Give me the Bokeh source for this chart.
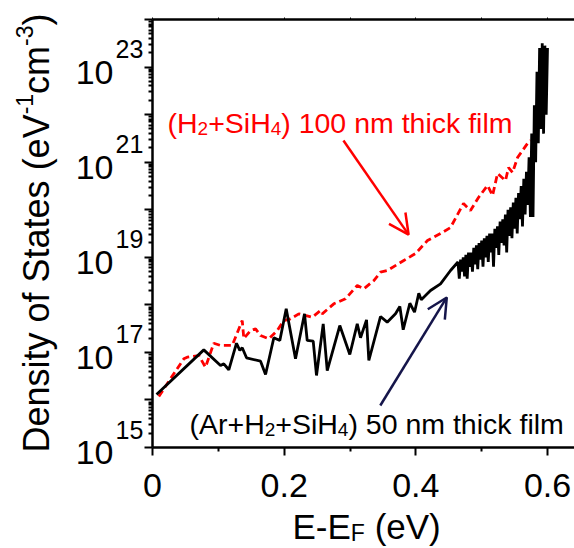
import math
from bokeh.plotting import figure
from bokeh.models import (Range1d, FixedTicker, LinearAxis, NumeralTickFormatter,
                          Label, Arrow, OpenHead)
from bokeh.embed import file_html
from bokeh.resources import INLINE

# ---------------- data ----------------
x_ticks = [0, 0.2, 0.4, 0.6]
x_minor_ticks = [0.1, 0.3, 0.5]
y_decades = [15, 16, 17, 18, 19, 20, 21, 22, 23, 24]
y_labelled_decades = [15, 17, 19, 21, 23]

# (H2+SiH4) 100 nm thick film  (red, dashed)
red_x = [0.0096, 0.0273, 0.0476, 0.0527, 0.0703, 0.0805, 0.0931, 0.1033, 0.1210,
         0.1363, 0.1387, 0.1489, 0.1565, 0.1641, 0.1767, 0.1894, 0.1995, 0.2096,
         0.2222, 0.2426, 0.2552, 0.2578, 0.2754, 0.2932, 0.3110, 0.3210, 0.3362,
         0.3463, 0.3565, 0.3817, 0.3995, 0.4177, 0.4375, 0.4527, 0.4724, 0.4830,
         0.4952, 0.5089, 0.5165, 0.5241, 0.5362, 0.5408, 0.5469, 0.5545, 0.5621,
         0.5696, 0.5742]
red_dos = [1.18e16, 2.79e16, 7.33e16, 7.93e16, 8.59e16, 4.88e16, 1.56e17, 1.40e17, 1.40e17,
           4.68e17, 1.96e17, 2.88e17, 3.13e17, 2.26e17, 1.93e17, 2.88e17, 4.68e17, 5.08e17,
           6.47e17, 5.50e17, 7.59e17, 6.47e17, 1.05e18, 1.34e18, 2.55e18, 2.17e18, 3.24e18,
           4.85e18, 5.27e18, 8.55e18, 1.20e19, 2.25e19, 3.16e19, 4.23e19, 1.35e20, 9.62e19,
           1.81e20, 3.23e20, 1.99e20, 5.77e20, 4.11e20, 7.71e20, 6.05e20, 1.25e21, 1.76e21,
           2.47e21, 2.85e21]

# (Ar+H2+SiH4) 50 nm thick film  (black, solid)
black_x = [0.0061, 0.0779, 0.1033, 0.1083, 0.1159, 0.1276, 0.1326, 0.1363, 0.1428,
           0.1641, 0.1717, 0.1843, 0.1934, 0.2031, 0.2172, 0.2309, 0.2350, 0.2441,
           0.2491, 0.2593, 0.2654, 0.2845, 0.2997, 0.3110, 0.3160, 0.3251, 0.3286,
           0.3463, 0.3565, 0.3691, 0.3757, 0.3808, 0.3909, 0.3980, 0.4045, 0.4082,
           0.4223, 0.4375, 0.4527,
           0.464, 0.466, 0.468, 0.470, 0.472, 0.474, 0.476, 0.478, 0.480, 0.482,
           0.484, 0.486, 0.488, 0.490, 0.492, 0.494, 0.496, 0.498, 0.500, 0.502,
           0.504, 0.506, 0.508, 0.510, 0.512, 0.514, 0.516, 0.518, 0.520, 0.522,
           0.524, 0.526, 0.528, 0.530, 0.532, 0.534, 0.536, 0.538, 0.540, 0.542,
           0.544, 0.546, 0.548, 0.550, 0.552, 0.554, 0.556, 0.558, 0.560, 0.562,
           0.564, 0.566, 0.568, 0.570, 0.572, 0.574, 0.576, 0.578, 0.580, 0.582,
           0.584, 0.586, 0.588, 0.590, 0.592, 0.594, 0.596, 0.598, 0.600]
black_dos = [1.30e16, 1.13e17, 5.30e16, 5.75e16, 4.31e16, 1.56e17, 1.10e17, 1.25e17, 7.69e16,
             6.53e16, 3.43e16, 2.03e17, 1.78e17, 8.24e17, 7.33e16, 6.47e17, 1.78e17, 1.72e17,
             3.27e16, 3.99e17, 4.16e16, 3.67e17, 9.02e16, 3.99e17, 2.03e17, 4.84e17, 6.75e16,
             5.68e17, 4.32e17, 6.47e17, 9.23e17, 2.99e17, 1.08e18, 7.00e17, 1.75e18, 1.28e18,
             2.00e18, 2.77e18, 5.27e18,
             7.94e18, 3.55e18, 8.91e18, 5.01e18, 1.00e19, 3.98e18, 1.12e19, 3.55e18, 1.26e19, 6.31e18,
             1.26e19, 5.01e18, 1.58e19, 7.08e18, 1.78e19, 5.62e18, 2.00e19, 8.91e18, 2.24e19, 6.31e18,
             2.51e19, 1.00e19, 2.82e19, 7.94e18, 3.16e19, 1.26e19, 3.16e19, 6.31e18, 3.98e19, 1.58e19,
             4.47e19, 1.12e19, 5.62e19, 2.00e19, 6.31e19, 1.78e19, 7.94e19, 1.26e19, 1.00e20, 2.82e19,
             1.12e20, 2.51e19, 1.41e20, 3.98e19, 1.78e20, 3.16e19, 2.24e20, 6.31e19, 3.16e20, 4.47e19,
             4.47e20, 7.94e19, 6.31e20, 1.26e20, 1.26e21, 7.08e19, 3.98e21, 7.08e19, 1.58e22, 1.00e21,
             7.94e22, 2.51e21, 2.51e23, 5.01e21, 3.16e23, 3.98e21, 2.82e23, 1.00e22, 2.51e23]

red_note_parts = [("(H", "n"), ("2", "sub"), ("+SiH", "n"), ("4", "sub"), (") 100 nm thick film", "n")]
black_note_parts = [("(Ar+H", "n"), ("2", "sub"), ("+SiH", "n"), ("4", "sub"), (") 50 nm thick film", "n")]
x_title_parts = [("E-E", "n"), ("F", "sub"), (" (eV)", "n")]
y_title_parts = [("Density of States (eV", "n"), ("-1", "sup"), ("cm", "n"), ("-3", "sup"), (")", "n")]

# ---------------- styling helpers ----------------
FONT = "Liberation Sans"
BASE_FIX = 10  # measured shift between requested and rendered text baseline
WID = {' ': 278, '(': 333, ')': 333, '+': 584, '-': 333, '.': 278, 'A': 667, 'D': 722,
       'E': 667, 'F': 611, 'H': 722, 'S': 667, 'V': 667, 'a': 556, 'c': 500, 'e': 556,
       'f': 278, 'h': 556, 'i': 222, 'k': 500, 'l': 222, 'm': 833, 'n': 556, 'o': 556,
       'r': 333, 's': 500, 't': 278, 'y': 500}


def text_width(s, size):
    return sum(WID.get(c, 556) for c in s) * size / 1000.0


def place_rich(p, parts, x_off, y_off, size, small, sub_dy, sup_dy, color, rotated=False):
    pos = 0.0
    for txt, kind in parts:
        fs = size if kind == "n" else small
        dy = 0 if kind == "n" else (sub_dy if kind == "sub" else sup_dy)
        lead = len(txt) - len(txt.lstrip(" "))
        pos += text_width(" " * lead, fs)
        body = txt.lstrip(" ")
        if rotated:
            lab = Label(x=0, y=1e15, x_offset=x_off - dy - BASE_FIX, y_offset=y_off + pos,
                        text=body, angle=math.pi / 2, text_font=FONT, text_font_size=f"{fs}px",
                        text_color=color, text_align="left", text_baseline="alphabetic")
        else:
            lab = Label(x=0, y=1e15, x_offset=x_off + pos, y_offset=y_off + dy + BASE_FIX,
                        text=body, text_font=FONT, text_font_size=f"{fs}px",
                        text_color=color, text_align="left", text_baseline="alphabetic")
        p.add_layout(lab)
        pos += text_width(body, fs)


# ---------------- figure ----------------
# The frame spans the whole canvas; axes are pinned at the data box edges so that
# all texts (tick labels, titles) lie inside the frame.
X_LO, X_HI = 0.0, 0.641
Y_LO, Y_HI = 1e15, 1e24
p = figure(width=574, height=548, x_range=Range1d(-0.2309, 0.641),
           y_range=Range1d(7.52e12, 2.51e24),
           y_axis_type="log", output_backend="svg", toolbar_location=None,
           min_border=0)
p.outline_line_color = None
p.grid.visible = False
p.background_fill_color = "white"
p.border_fill_color = "white"

xa = p.xaxis[0]
xa.fixed_location = Y_LO
xa.bounds = (X_LO, X_HI)
xa.ticker = FixedTicker(ticks=x_ticks, minor_ticks=x_minor_ticks)
xa.formatter = NumeralTickFormatter(format="0.[0]")
xa.major_label_text_font = FONT
xa.major_label_text_font_size = "34px"
xa.major_label_text_color = "black"
xa.major_label_standoff = 18
xa.major_tick_out = 8
xa.major_tick_in = 0
xa.minor_tick_out = 4
xa.minor_tick_in = 0
xa.axis_line_width = 2.5
xa.major_tick_line_width = 2
xa.minor_tick_line_width = 2

ta = LinearAxis(ticker=FixedTicker(ticks=x_ticks, minor_ticks=x_minor_ticks),
                fixed_location=Y_HI, bounds=(X_LO, X_HI),
                major_label_text_color=None, major_label_text_font_size="6px",
                major_label_standoff=0,
                major_tick_out=2, major_tick_in=0, minor_tick_out=2, minor_tick_in=0,
                axis_line_width=2.5)
p.add_layout(ta, "above")

ya = p.yaxis[0]
ya.fixed_location = X_LO
ya.bounds = (Y_LO, Y_HI)
ya.ticker = FixedTicker(ticks=[10.0 ** k for k in y_decades],
                        minor_ticks=[m * 10.0 ** k for k in y_decades[:-1] for m in range(2, 10)])
ya.major_label_text_color = None
ya.major_label_text_font_size = "6px"
ya.major_label_standoff = 0
ya.major_tick_out = 8
ya.major_tick_in = 0
ya.minor_tick_out = 4
ya.minor_tick_in = 0
ya.axis_line_width = 2.5
ya.major_tick_line_width = 2
ya.minor_tick_line_width = 2

# y tick labels 10^n
for k in y_labelled_decades:
    p.add_layout(Label(x=0, y=10.0 ** k, x_offset=-39, y_offset=-15 + BASE_FIX, text="10",
                       text_font=FONT, text_font_size="34px", text_color="black",
                       text_align="right", text_baseline="alphabetic"))
    p.add_layout(Label(x=0, y=10.0 ** k, x_offset=-37, y_offset=8 + BASE_FIX, text=str(k),
                       text_font=FONT, text_font_size="25px", text_color="black",
                       text_align="left", text_baseline="alphabetic"))

# curves
p.line(red_x, red_dos, line_color="#ff0000", line_width=2.8, line_dash="7 4")
p.line(black_x, black_dos, line_color="black", line_width=2.8)

# arrows
p.add_layout(Arrow(end=OpenHead(size=20, line_color="#ff0000", line_width=2.5),
                   x_start=0.290, y_start=2.85e21, x_end=0.389, y_end=3.0e19,
                   line_color="#ff0000", line_width=2.5))
p.add_layout(Arrow(end=OpenHead(size=20, line_color="#15154a", line_width=2.5),
                   x_start=0.346, y_start=7.64e15, x_end=0.447, y_end=1.43e18,
                   line_color="#15154a", line_width=2.5))

# annotations
place_rich(p, red_note_parts, 15, 315, 28.5, 19, -6, 0, "#ff0000")
place_rich(p, black_note_parts, 37, 14, 28.5, 19, -6, 0, "black")

# axis titles
place_rich(p, x_title_parts, 140, -89, 35, 23, -6, 0, "black")
place_rich(p, y_title_parts, -106, -5, 36, 23, 0, 12, "black", rotated=True)

open("out.html", "w").write(file_html(p, INLINE))
